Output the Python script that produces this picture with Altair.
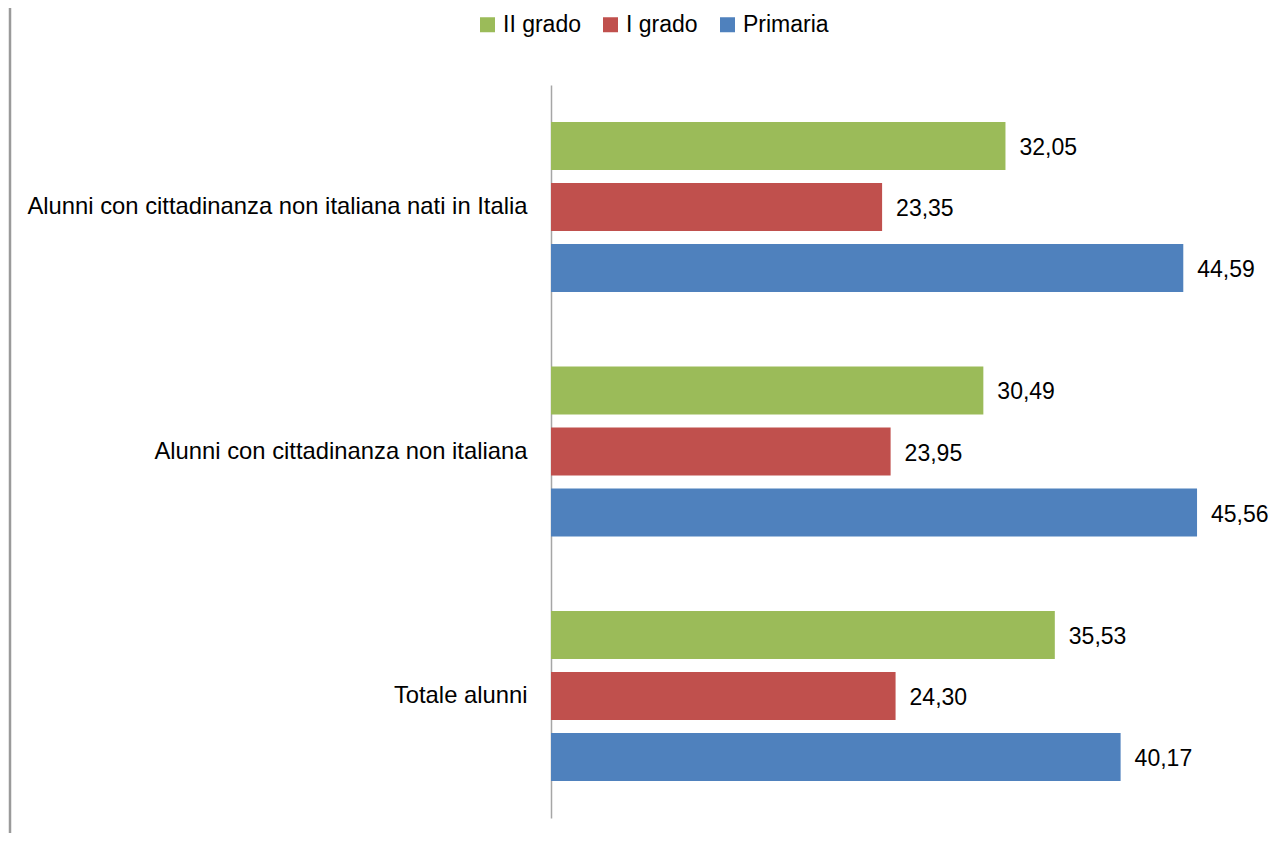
import altair as alt
import pandas as pd

categories = [
    "Alunni con cittadinanza non italiana nati in Italia",
    "Alunni con cittadinanza non italiana",
    "Totale alunni",
]
series = ["II grado", "I grado", "Primaria"]
colors = ["#9BBB59", "#C0504D", "#4F81BD"]
values_ii = [32.05, 30.49, 35.53]
values_i = [23.35, 23.95, 24.30]
values_prim = [44.59, 45.56, 40.17]

rows = []
for s, vals in zip(series, [values_ii, values_i, values_prim]):
    for c, v in zip(categories, vals):
        rows.append({"cat": c, "serie": s, "val": v, "lab": f"{v:.2f}".replace(".", ",")})
df = pd.DataFrame(rows)

FONT = "Liberation Sans"
FS = 23

y_enc = alt.Y("cat:N", sort=categories, title=None,
              scale=alt.Scale(paddingInner=0.304, paddingOuter=0.151),
              axis=alt.Axis(ticks=False, labelPadding=24, labelFontSize=23.8, labelFont=FONT,
                            labelColor="#000000", domainColor="#A6A6A6", domainWidth=1.5,
                            labelLimit=800, grid=False))
yoff = alt.YOffset("serie:N", sort=series, scale=alt.Scale(paddingInner=0.213, paddingOuter=0))
x_enc = alt.X("val:Q", scale=alt.Scale(domain=[0, 50]), axis=None)

bars = alt.Chart(df).mark_bar().encode(
    x=x_enc,
    y=y_enc,
    yOffset=yoff,
    color=alt.Color("serie:N", sort=series,
                    scale=alt.Scale(domain=series, range=colors),
                    legend=alt.Legend(title=None, orient="none", direction="horizontal",
                                      legendX=-75, legendY=-72, symbolType="square",
                                      symbolSize=225, symbolStrokeWidth=0, labelFontSize=FS,
                                      labelFont=FONT, labelColor="#000000", labelOffset=4,
                                      columnPadding=18)),
)

labels = alt.Chart(df).mark_text(align="left", baseline="middle", dx=14, dy=2,
                                 fontSize=FS, font=FONT, color="#000000").encode(
    x=x_enc,
    y=alt.Y("cat:N", sort=categories),
    yOffset=alt.YOffset("serie:N", sort=series),
    text="lab:N",
)

border = alt.Chart(pd.DataFrame({"a": [0]})).mark_rule(color="#9a9a9a", strokeWidth=2.5, clip=False).encode(
    x=alt.value(-541), y=alt.value(-77), y2=alt.value(770)
)

chart = alt.layer(border, bars, labels).properties(
    width=709, height=733,
    padding={"left": 543, "top": 77, "right": 16, "bottom": 15},
    autosize=alt.AutoSizeParams(type="none"),
).configure_view(stroke=None)

chart.save("out.html", embed_options={"renderer": "svg", "actions": False})
